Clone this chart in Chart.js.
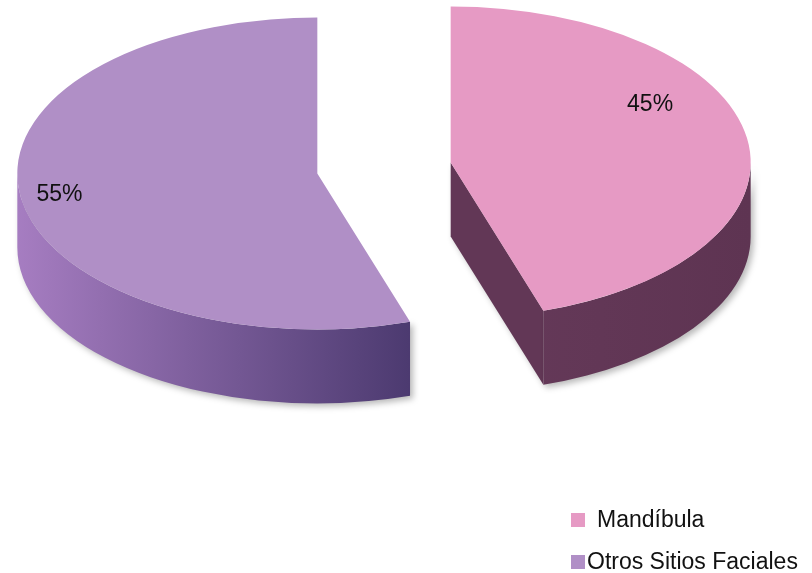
<!DOCTYPE html>
<html>
<head>
<meta charset="utf-8">
<script src="https://cdn.jsdelivr.net/npm/chart.js@4.4.0/dist/chart.umd.min.js"></script>
<style>
  html, body { margin: 0; padding: 0; background: #fff; }
  #caja { width: 812px; height: 573px; }
</style>
</head>
<body>
<div id="caja"><canvas id="grafico"></canvas></div>
<script>
// Datos del gráfico
const categorias = ['Mandíbula', 'Otros Sitios Faciales'];
const porcentajes = [45, 55];
const etiquetas = ['45%', '55%'];

// Estilo
const coloresTapa = ['#E69AC4', '#B08FC6'];
const coloresPared = [['#6E4062', '#5E3452'], ['#A67DC1', '#4C3A70']];
const colorCara = ['#623756', '#4C3A70'];
const fuente = '23px "Liberation Sans", Arial, sans-serif';

// Geometría del pastel 3D (pantalla)
const centro = { x: 384, y: 168 };
const radioX = 300;
const radioY = 156;
const profundidad = 74;
const separacion = 0.225;
const radioEtiqueta = [0.76, 0.87];
const giroEtiqueta = [-20, 0];

function centroPorcion(arc) {
  const mid = (arc.startAngle + arc.endAngle) / 2;
  return {
    x: centro.x + Math.cos(mid) * separacion * radioX,
    y: centro.y + Math.sin(mid) * separacion * radioY
  };
}

function dibujarParedes(ctx, arc, i) {
  const p = centroPorcion(arc);
  const a0 = arc.startAngle, a1 = arc.endAngle;

  ctx.save();
  ctx.shadowColor = 'rgba(0,0,0,0.28)';
  ctx.shadowBlur = 6;
  ctx.shadowOffsetX = 3;
  ctx.shadowOffsetY = 3;

  // cara radial visible (final de la porción)
  if (Math.cos(a1) > 0.01) {
    const qx = p.x + radioX * Math.cos(a1), qy = p.y + radioY * Math.sin(a1);
    ctx.beginPath();
    ctx.moveTo(p.x, p.y);
    ctx.lineTo(qx, qy);
    ctx.lineTo(qx, qy + profundidad);
    ctx.lineTo(p.x, p.y + profundidad);
    ctx.closePath();
    ctx.fillStyle = colorCara[i];
    ctx.fill();
  }

  // pared exterior (solo la parte frontal)
  [0, 2 * Math.PI].forEach(base => {
    const s = Math.max(a0, base);
    const e = Math.min(a1, base + Math.PI);
    if (e <= s) return;
    ctx.beginPath();
    ctx.ellipse(p.x, p.y, radioX, radioY, 0, s, e);
    ctx.ellipse(p.x, p.y + profundidad, radioX, radioY, 0, e, s, true);
    ctx.closePath();
    const g = ctx.createLinearGradient(p.x - radioX, 0, p.x + radioX * Math.cos(s), 0);
    g.addColorStop(0, coloresPared[i][0]);
    g.addColorStop(1, coloresPared[i][1]);
    ctx.fillStyle = g;
    ctx.fill();
  });
  ctx.restore();
}

const pastel3d = {
  id: 'pastel3d',
  beforeDatasetsDraw(chart) {
    const ctx = chart.ctx;
    const arcs = chart.getDatasetMeta(0).data;

    arcs.forEach((arc, i) => dibujarParedes(ctx, arc, i));

    // tapas dibujadas por el propio arco de Chart.js, aplastadas
    arcs.forEach(arc => {
      const r0 = arc.outerRadius;
      const mid = (arc.startAngle + arc.endAngle) / 2;
      ctx.save();
      ctx.translate(centro.x, centro.y);
      ctx.scale(radioX / r0, radioY / r0);
      ctx.translate(Math.cos(mid) * separacion * r0, Math.sin(mid) * separacion * r0);
      ctx.translate(-arc.x, -arc.y);
      arc.draw(ctx);
      ctx.restore();
    });
    return false;
  },
  afterDraw(chart) {
    // porcentajes sobre cada tapa
    const ctx = chart.ctx;
    const arcs = chart.getDatasetMeta(0).data;
    ctx.save();
    ctx.font = fuente;
    ctx.fillStyle = '#111';
    ctx.textAlign = 'center';
    ctx.textBaseline = 'middle';
    arcs.forEach((arc, i) => {
      const p = centroPorcion(arc);
      const ang = (arc.startAngle + arc.endAngle) / 2 + giroEtiqueta[i] * Math.PI / 180;
      ctx.fillText(etiquetas[i],
        p.x + Math.cos(ang) * radioEtiqueta[i] * radioX,
        p.y + Math.sin(ang) * radioEtiqueta[i] * radioY);
    });
    ctx.restore();
  }
};

// Leyenda propia, abajo a la derecha
const leyendaPosX = 571;
const leyendaPosY = [520, 562];
const leyendaTexto = [12, 2];
const leyenda = {
  id: 'leyenda',
  afterDraw(chart) {
    const ctx = chart.ctx;
    ctx.save();
    ctx.font = fuente;
    ctx.textBaseline = 'middle';
    categorias.forEach((cat, i) => {
      ctx.fillStyle = coloresTapa[i];
      ctx.fillRect(leyendaPosX, leyendaPosY[i] - 7, 14, 14);
      ctx.fillStyle = '#111';
      ctx.fillText(cat, leyendaPosX + 14 + leyendaTexto[i], leyendaPosY[i] + 1);
    });
    ctx.restore();
  }
};

new Chart(document.getElementById('grafico'), {
  type: 'pie',
  data: {
    labels: categorias,
    datasets: [{
      data: porcentajes,
      backgroundColor: coloresTapa,
      borderWidth: 0
    }]
  },
  options: {
    responsive: true,
    maintainAspectRatio: false,
    animation: false,
    plugins: {
      legend: { display: false },
      tooltip: { enabled: false }
    }
  },
  plugins: [pastel3d, leyenda]
});
</script>
</body>
</html>
